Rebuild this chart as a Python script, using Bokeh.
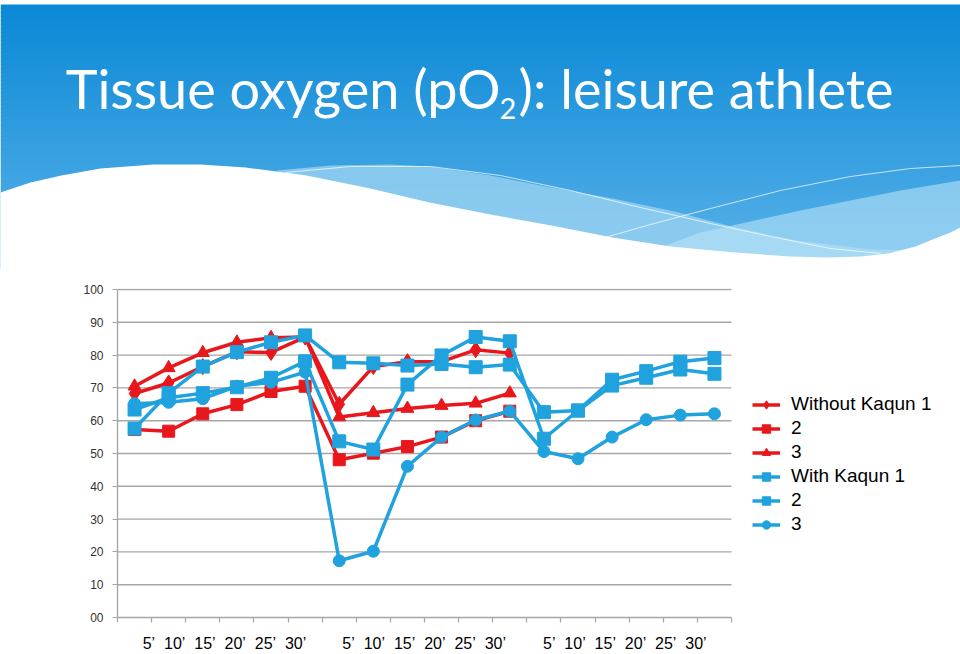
import numpy as np
from bokeh.plotting import figure
from bokeh.layouts import column
from bokeh.models import Range1d, FixedTicker, Legend, LegendItem
from bokeh.core.properties import value
from bokeh.embed import file_html
from bokeh.resources import INLINE

# ---------------- data ----------------
minute_labels = ["5’", "10’", "15’", "20’", "25’", "30’"]
n_groups = 3
y_ticks = [0, 10, 20, 30, 40, 50, 60, 70, 80, 90, 100]

without_1 = [68.3, 71.5, 76.5, 81.0, 80.8, 85.5, 65.0, 76.5, 78.0, 78.0, 81.6, 80.6]
without_2 = [57.3, 56.8, 62.1, 64.9, 68.9, 70.5, 48.1, 50.1, 52.1, 55.0, 60.0, 62.9]
without_3 = [70.5, 76.1, 80.7, 83.9, 85.3, 85.5, 61.1, 62.4, 63.7, 64.6, 65.3, 68.4]
with_1 = [57.6, 68.4, 76.5, 80.9, 83.9, 86.0, 77.8, 77.5, 76.8, 77.3, 76.3, 77.1,
          62.6, 63.1, 72.5, 75.1, 78.0, 79.1]
with_2 = [63.4, 67.0, 68.4, 70.2, 73.1, 78.1, 53.7, 51.2, 71.0, 79.9, 85.5, 84.2,
          54.5, 63.1, 70.7, 73.1, 75.6, 74.3]
with_3 = [65.2, 65.6, 66.7, 70.5, 71.7, 74.8, 17.3, 20.2, 46.1, 55.0, 60.2, 62.9,
          50.6, 48.4, 55.0, 60.3, 61.7, 62.1]

series_names = ["Without Kaqun 1", "2", "3", "With Kaqun 1", "2", "3"]

RED = "#e8171c"
BLUE = "#1fa2de"

W, H = 960, 654
HEAD_H = 270

# ---------------- header (decorative slide background) ----------------
head = figure(width=W, height=HEAD_H, x_range=Range1d(0, W), y_range=Range1d(HEAD_H, 0),
              output_backend="svg", toolbar_location=None, min_border=0)
head.frame_align = False
head.axis.visible = False
head.grid.visible = False
head.outline_line_color = None
head.background_fill_color = "white"
head.border_fill_color = "white"

top_c = np.array([10, 136, 214])
bot_c = np.array([90, 178, 233])
n = 66
edges = np.linspace(4, 268, n + 1)
cols = []
for i in range(n):
    t = i / (n - 1)
    c = np.round(top_c + (bot_c - top_c) * t).astype(int)
    cols.append("#%02x%02x%02x" % tuple(c))
head.quad(left=0, right=W, top=edges[:-1], bottom=edges[1:] + 0.6, fill_color=cols, line_color=None)

band1 = [(276, 170), (330, 165), (390, 164), (429, 166), (490, 175), (551, 187), (612, 198),
         (674, 211), (735, 227), (796, 240), (870, 249), (920, 250), (920, 266), (276, 266)]
head.patch([q[0] for q in band1], [q[1] for q in band1], fill_color="#9fd4f1", fill_alpha=0.75, line_color=None)
band2 = [(620, 262), (700, 232), (800, 210), (900, 190), (960, 180), (960, 266), (620, 266)]
head.patch([q[0] for q in band2], [q[1] for q in band2], fill_color="#b8e2f6", fill_alpha=0.6, line_color=None)

lineA = [(285, 172), (350, 166), (430, 166), (500, 175), (570, 190), (640, 207), (710, 223),
         (770, 236), (830, 248), (880, 253)]
head.line([q[0] for q in lineA], [q[1] for q in lineA], line_color="white", line_alpha=0.7, line_width=1)
lineB = [(594, 240), (650, 224), (710, 208), (780, 190), (850, 176), (910, 168), (960, 165)]
head.line([q[0] for q in lineB], [q[1] for q in lineB], line_color="white", line_alpha=0.7, line_width=1)

wave = [(0, 192), (30, 182), (61, 175), (100, 168), (153, 164), (200, 164), (245, 167), (306, 175),
        (370, 188), (429, 202), (490, 214), (551, 225), (612, 237), (670, 246), (735, 252),
        (790, 256), (827, 257), (860, 256), (888, 253), (915, 246), (937, 237), (950, 232),
        (960, 227), (960, 272), (0, 272)]
head.patch([q[0] for q in wave], [q[1] for q in wave], fill_color="white", line_color=None)

title_font = value("Lato")
head.text(x=[500], y=[88], text=["Tissue oxygen (pO"], text_color="white", text_font=title_font,
          text_font_size="54px", text_align="right", text_baseline="alphabetic")
head.text(x=[499], y=[108], text=["2"], text_color="white", text_font=title_font,
          text_font_size="29px", text_align="left", text_baseline="alphabetic")
head.text(x=[518], y=[88], text=["): leisure athlete"], text_color="white", text_font=title_font,
          text_font_size="54px", text_align="left", text_baseline="alphabetic")

# ---------------- chart ----------------
n_cat = len(minute_labels) * n_groups
FRAME_L, CAT_R = 117, 731
px_per_unit = (CAT_R - FRAME_L) / n_cat
x_end = (W - FRAME_L) / px_per_unit       # frame runs to the window edge; categories end at CAT_R

p = figure(width=W, height=H - HEAD_H, x_range=Range1d(0, x_end), y_range=Range1d(0, 100.3),
           output_backend="svg", toolbar_location=None,
           min_border_left=FRAME_L, min_border_right=0, min_border_top=18, min_border_bottom=37)
p.frame_align = False
p.outline_line_color = None
p.background_fill_color = "white"
p.border_fill_color = "white"

AX = "#a6a6a6"
p.grid.visible = False
# horizontal grid lines only across the category span
p.segment(x0=0, x1=n_cat, y0=y_ticks[1:], y1=y_ticks[1:], line_color=AX, line_width=1.4)

p.yaxis.ticker = FixedTicker(ticks=y_ticks)
p.yaxis.bounds = (0, 100)
p.yaxis.major_label_overrides = {0: "00"}
p.yaxis.axis_line_color = AX
p.yaxis.axis_line_width = 1.4
p.yaxis.major_tick_line_color = AX
p.yaxis.major_tick_in = 0
p.yaxis.major_tick_out = 5
p.yaxis.minor_tick_line_color = None
p.yaxis.major_label_standoff = 9
p.yaxis.major_label_text_font = "Liberation Sans"
p.yaxis.major_label_text_font_size = "12px"
p.yaxis.major_label_text_color = "#333333"

# minute labels: one text per block of six categories; minor ticks mark category boundaries
group_text = "\u00a0\u00a0".join(minute_labels)
label_offsets_px = [25, 20, 16]
half_text_px = 82
group_centres = [g * len(minute_labels) + (label_offsets_px[g] + half_text_px) / px_per_unit
                 for g in range(n_groups)]
p.xaxis.ticker = FixedTicker(ticks=group_centres, minor_ticks=list(range(n_cat + 1)))
p.xaxis.bounds = (0, n_cat)
p.xaxis.major_label_overrides = {c: group_text for c in group_centres}
p.xaxis.axis_line_color = AX
p.xaxis.axis_line_width = 1.4
p.xaxis.major_tick_line_color = None
p.xaxis.major_tick_in = 0
p.xaxis.major_tick_out = 0
p.xaxis.minor_tick_line_color = AX
p.xaxis.minor_tick_line_width = 1.2
p.xaxis.minor_tick_in = 0
p.xaxis.minor_tick_out = 5
p.xaxis.major_label_standoff = 12
p.xaxis.major_label_text_font = "Liberation Sans"
p.xaxis.major_label_text_font_size = "16px"
p.xaxis.major_label_text_color = "black"

series = [
    (series_names[0], without_1, RED, "diamond", 16),
    (series_names[1], without_2, RED, "square", 12),
    (series_names[2], without_3, RED, "triangle", 13),
    (series_names[3], with_1, BLUE, "square", 13),
    (series_names[4], with_2, BLUE, "square", 13),
    (series_names[5], with_3, BLUE, "circle", 12),
]

items = []
for name, vals, color, marker, size in series:
    xs = [i + 0.5 for i in range(len(vals))]
    ln = p.line(xs, vals, line_color=color, line_width=3.5)
    sc = p.scatter(xs, vals, marker=marker, size=size, fill_color=color, line_color=color)
    items.append(LegendItem(label=value(name), renderers=[ln, sc]))

legend = Legend(items=items, location=(635, 82), padding=0, margin=0, spacing=2,
                glyph_width=28, glyph_height=21, label_height=21, label_standoff=11,
                label_text_font="Liberation Sans", label_text_font_size="19px",
                label_text_color="black", border_line_color=None, background_fill_alpha=0)
p.add_layout(legend)

layout = column(head, p, spacing=0)
open("out.html", "w").write(file_html(layout, INLINE))
